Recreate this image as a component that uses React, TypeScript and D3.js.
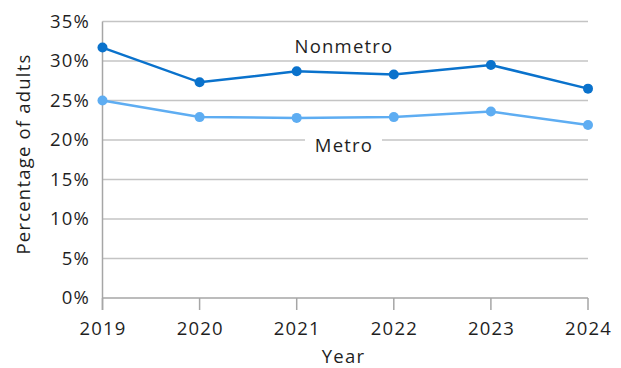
import React from "react";
import * as d3 from "d3";

const years = [2019, 2020, 2021, 2022, 2023, 2024];
const nonmetro = [31.7, 27.3, 28.7, 28.3, 29.5, 26.5];
const metro = [25.0, 22.9, 22.8, 22.9, 23.6, 21.9];
const yTicks = [0, 5, 10, 15, 20, 25, 30, 35];

const W = 621;
const H = 368;
const margin = { left: 102.5, right: 33, top: 21.5, bottom: 70 };
const FONT = "'Open Sans', sans-serif";
const FS = 18.5;
const LS = 1.2;
const DARK = "#0A72CC";
const LIGHT = "#5EADF2";

export default function App() {
  const x = d3
    .scalePoint<number>()
    .domain(years)
    .range([margin.left, W - margin.right]);
  const y = d3
    .scaleLinear()
    .domain([0, 35])
    .range([H - margin.bottom, margin.top]);

  const line = d3
    .line<number>()
    .x((_, i) => x(years[i]) as number)
    .y((d) => y(d));

  const series = [
    { name: "Nonmetro", values: nonmetro, color: DARK },
    { name: "Metro", values: metro, color: LIGHT },
  ];

  const x0 = margin.left;
  const x1 = W - margin.right;
  const y0 = y(0);
  const textProps = { fontSize: FS, letterSpacing: LS, fill: "#1f1f1f" };

  return (
    <svg
      width={W}
      height={H}
      style={{ position: "absolute", left: 0, top: 0, background: "#fff" }}
      fontFamily={FONT}
    >
      {yTicks.map((t) => (
        <g key={t}>
          {t > 0 && (
            <line
              x1={x0}
              x2={x1}
              y1={y(t)}
              y2={y(t)}
              stroke="#C4C4C4"
              strokeWidth={1.5}
            />
          )}
          <text x={90} y={y(t)} dy="0.35em" textAnchor="end" {...textProps}>
            {t}%
          </text>
        </g>
      ))}
      {/* axes */}
      <line x1={x0} x2={x0} y1={y(35)} y2={y0 + 12} stroke="#A6A6A6" strokeWidth={1.5} />
      <line x1={x0} x2={x1} y1={y0} y2={y0} stroke="#A6A6A6" strokeWidth={1.5} />
      {years.map((yr) => (
        <g key={yr}>
          <line
            x1={x(yr)}
            x2={x(yr)}
            y1={y0}
            y2={y0 + 12}
            stroke="#A6A6A6"
            strokeWidth={1.5}
          />
          <text x={(x(yr) as number) + LS / 2} y={335} textAnchor="middle" {...textProps}>
            {yr}
          </text>
        </g>
      ))}
      <text x={343.5} y={363} textAnchor="middle" {...textProps}>
        Year
      </text>
      <text transform="translate(30,154) rotate(-90)" textAnchor="middle" {...textProps}>
        Percentage of adults
      </text>

      {/* series labels */}
      <rect x={305} y={128} width={77} height={26} fill="#fff" />
      <text x={344} y={152} textAnchor="middle" {...textProps}>
        Metro
      </text>
      <text x={344} y={53} textAnchor="middle" {...textProps}>
        Nonmetro
      </text>

      {series.map((s) => (
        <g key={s.name}>
          <path d={line(s.values) ?? ""} fill="none" stroke={s.color} strokeWidth={2.5} />
          {s.values.map((v, i) => (
            <circle key={i} cx={x(years[i])} cy={y(v)} r={5} fill={s.color} />
          ))}
        </g>
      ))}
    </svg>
  );
}
